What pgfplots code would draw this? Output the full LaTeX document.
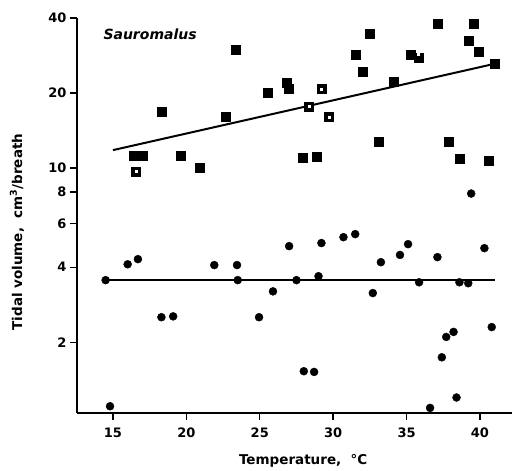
\documentclass[border=0pt]{standalone}
\usepackage{pgfplots}
\pgfplotsset{compat=1.18}
\usepackage{fontspec}
\setmainfont{DejaVu Sans}
\begin{document}
\begin{tikzpicture}
\useasboundingbox (-77pt,-58pt) rectangle (435pt,413pt);
\begin{axis}[
 scale only axis, width=435pt, height=395pt,
 ymode=log, xmin=12.55, xmax=42.18, ymin=1.04, ymax=40,
 axis x line*=bottom, axis y line*=left,
 axis line style={line width=1.8pt,-},
 xtick={15,20,25,30,35,40},
 ytick={2,4,6,8,10,20,40}, yticklabels={2,4,6,8,10,20,40},
 tick align=outside, major tick length=7pt, minor tick length=0pt,
 tick style={line width=1.4pt, black},
 /pgf/number format/assume math mode=true,
 tick label style={font=\fontsize{13}{15}\selectfont\bfseries},
 xticklabel style={yshift=-4pt},
 xlabel={Temperature,\ \ °C}, ylabel={Tidal volume,\ \ cm\textsuperscript{3}/breath},
 label style={font=\fontsize{13.5}{16}\selectfont\bfseries},
 xlabel style={at={(axis description cs:0.52,-0.12)}, anchor=center},
 ylabel style={at={(axis description cs:-0.138,0.458)}, anchor=center},
 clip=false,
]
\addplot[only marks, mark=square*, mark size=4.5pt, black] coordinates {
(23.38,29.8) (18.34,16.8) (22.7,16.0) (16.4,11.2) (17.0,11.2) (16.55,9.7)
(19.6,11.2) (20.9,10.0) (25.56,20.0) (26.8,21.9) (27.0,20.8) (28.35,17.7)
(29.2,20.8) (29.7,16.0) (27.9,11.0) (28.9,11.1) (31.5,28.4) (32.5,34.5)
(32.0,24.3) (34.1,22.3) (33.1,12.8) (35.3,28.4) (35.8,27.6) (37.1,37.9)
(39.6,37.9) (39.25,32.4) (39.9,29.2) (41.0,26.2) (37.9,12.7) (38.6,10.9)
(40.6,10.7)
};
\addplot[only marks, mark=square*, mark size=1pt, white] coordinates {
(16.55,9.7) (28.35,17.7) (29.7,16.0) (29.2,20.8) (35.8,28.6)
};
\addplot[only marks, mark=*, mark size=4pt, black] coordinates {
(14.5,3.55) (16.0,4.11) (16.7,4.31) (21.9,4.08) (23.45,4.08) (23.5,3.55)
(18.3,2.52) (19.1,2.54) (14.8,1.107) (24.95,2.52) (25.9,3.2) (27.0,4.86)
(27.5,3.55) (29.0,3.68) (29.2,5.0) (30.7,5.28) (31.5,5.43) (28.0,1.53)
(28.7,1.52) (32.7,3.15) (33.25,4.19) (34.55,4.48) (35.1,4.95) (35.85,3.48)
(37.1,4.39) (38.6,3.48) (39.2,3.45) (40.3,4.77) (40.8,2.30) (37.7,2.10)
(38.2,2.2) (37.4,1.74) (38.4,1.2) (36.6,1.09) (39.4,7.9)
};
\addplot[line width=2pt, black, no marks] coordinates {(15.0,11.8) (41.0,26.2)};
\addplot[line width=2pt, black, no marks] coordinates {(14.5,3.55) (41.0,3.55)};
\node[font=\fontsize{14}{16}\selectfont\bfseries\itshape] at (rel axis cs:0.168,0.96) {Sauromalus};
\end{axis}
\end{tikzpicture}
\end{document}
